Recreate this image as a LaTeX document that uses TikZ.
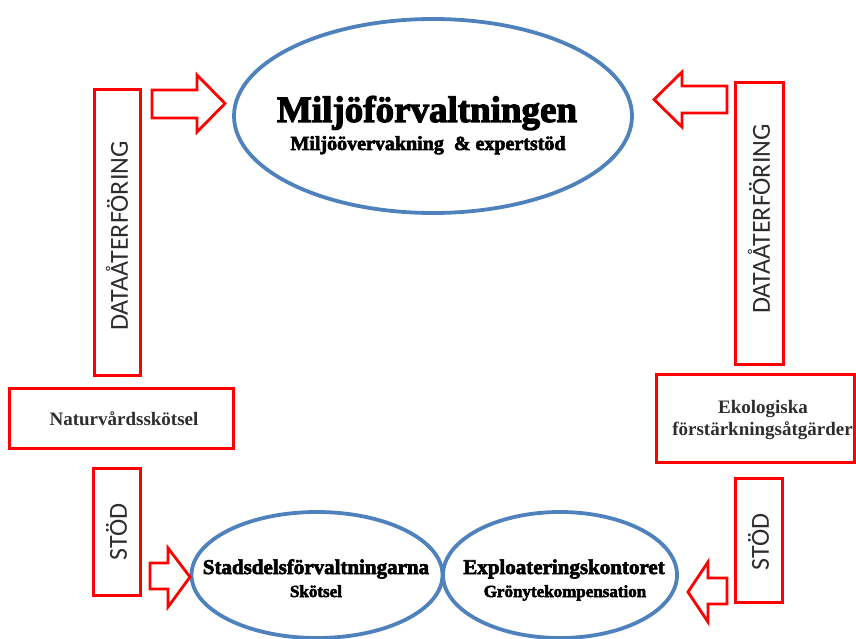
\documentclass[tikz,border=0pt]{standalone}
\usepackage{fontspec}
\setmainfont{Liberation Serif}
\newfontfamily\calib{Carlito}
\newfontfamily\heavy{Liberation Serif}[UprightFont=* Bold, FakeBold=3]
\usetikzlibrary{shapes.geometric}
\definecolor{ellblue}{RGB}{79,129,189}
\definecolor{txtgray}{RGB}{45,45,45}
\tikzset{
  redbox/.style={draw=red, line width=3pt, minimum width=#1, inner sep=0pt},
  ell/.style={draw=ellblue, line width=3.8pt, ellipse, inner sep=0pt},
  vlabel/.style={rotate=90, font=\calib\fontsize{26}{30}\selectfont, text=txtgray, inner sep=0pt},
  boxtext/.style={font=\bfseries\fontsize{19}{22}\selectfont, text=txtgray, align=center, inner sep=0pt},
  blockarrow/.style={draw=red, line width=2.8pt, line join=miter, fill=white},
  bigtitle/.style={font=\heavy\fontsize{37}{40}\selectfont, anchor=base, inner sep=0pt},
  subtitle/.style={font=\heavy\fontsize{#1}{#1}\selectfont, anchor=base, inner sep=0pt}
}
\begin{document}
\begin{tikzpicture}[x=1pt,y=-1pt]
\useasboundingbox (0,0) rectangle (856,639);
% ellipses
\node[ell, minimum width=398pt, minimum height=194pt] (top) at (433,116) {};
\node[ell, minimum width=251pt, minimum height=126pt] (stad) at (317,575) {};
\node[ell, minimum width=234pt, minimum height=126pt] (expl) at (560,575) {};
% ellipse texts
\node[bigtitle] (topT) at (427,122) {Miljöförvaltningen};
\node[subtitle=20] (topS) at (428,150) {Miljöövervakning\ \ \& expertstöd};
\node[subtitle=21] (stadT) at (316,574) {Stadsdelsförvaltningarna};
\node[subtitle=17] (stadS) at (316,597) {Skötsel};
\node[subtitle=21] (explT) at (564,574) {Exploateringskontoret};
\node[subtitle=17] (explS) at (565,597) {Grönytekompensation};
% boxes
\node[redbox=46pt, minimum height=285pt] (dataL) at (117,232.5) {};
\node[vlabel] (dataLt) at (117,236) {DATAÅTERFÖRING};
\node[redbox=48pt, minimum height=281pt] (dataR) at (759,223.5) {};
\node[vlabel] (dataRt) at (759,219) {DATAÅTERFÖRING};
\node[redbox=224pt, minimum height=60pt] (natur) at (121,418) {};
\node[boxtext, anchor=base] (naturT) at (124,425) {Naturvårdsskötsel};
\node[redbox=198pt, minimum height=88pt] (eko) at (755,418) {};
\node[boxtext, anchor=base] (ekoT1) at (763,413) {Ekologiska};
\node[boxtext, anchor=base] (ekoT2) at (762.5,435) {förstärkningsåtgärder};
\node[redbox=47pt, minimum height=127pt] (stodL) at (116.5,531.5) {};
\node[vlabel] (stodLt) at (116.5,532) {STÖD};
\node[redbox=47pt, minimum height=124pt] (stodR) at (758.5,540) {};
\node[vlabel] (stodRt) at (758.5,542) {STÖD};
% block arrows
\draw[blockarrow] (152,90) -- (197,90) -- (197,75) -- (225,103.5) -- (197,132) -- (197,118) -- (152,118) -- cycle;
\draw[blockarrow] (727,86) -- (682,86) -- (682,72) -- (654,99.5) -- (682,127) -- (682,113) -- (727,113) -- cycle;
\draw[blockarrow] (150,563) -- (168,563) -- (168,548) -- (190,577) -- (168,607) -- (168,589) -- (150,589) -- cycle;
\draw[blockarrow] (727,578) -- (708,578) -- (708,562) -- (688,592) -- (708,622) -- (708,604) -- (727,604) -- cycle;
\end{tikzpicture}
\end{document}
